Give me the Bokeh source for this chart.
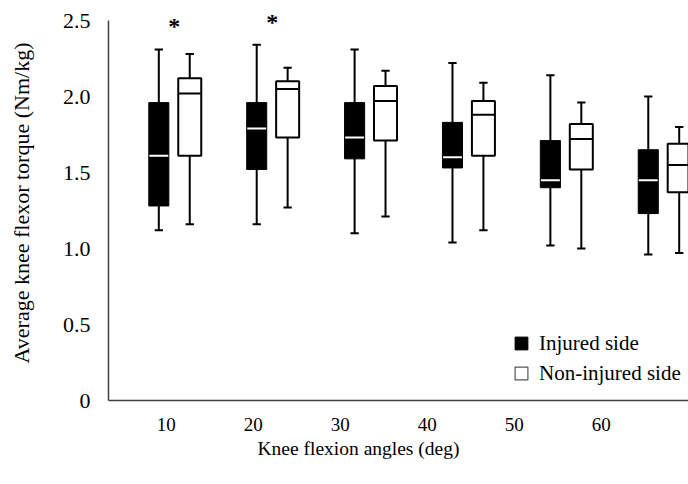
import numpy as np
from bokeh.plotting import figure
from bokeh.models import (Range1d, FixedTicker, CustomJSTickFormatter, Legend, LegendItem,
                          ColumnDataSource, Title)
from bokeh.core.properties import value
from bokeh.embed import file_html
from bokeh.resources import INLINE

# ---------------- data ----------------
angles = ["10", "20", "30", "40", "50", "60"]

inj_max = [2.31, 2.34, 2.31, 2.22, 2.14, 2.00]
inj_q3 = [1.96, 1.96, 1.96, 1.83, 1.71, 1.65]
inj_med = [1.61, 1.79, 1.73, 1.60, 1.45, 1.45]
inj_q1 = [1.28, 1.52, 1.59, 1.53, 1.40, 1.23]
inj_min = [1.12, 1.16, 1.10, 1.04, 1.02, 0.96]

non_max = [2.28, 2.19, 2.17, 2.09, 1.96, 1.80]
non_q3 = [2.12, 2.10, 2.07, 1.97, 1.82, 1.69]
non_med = [2.02, 2.05, 1.97, 1.88, 1.72, 1.55]
non_q1 = [1.61, 1.73, 1.71, 1.61, 1.52, 1.37]
non_min = [1.16, 1.27, 1.21, 1.12, 1.00, 0.97]

significance = ["*", "*", "", "", "", ""]

y_ticks = [0, 0.5, 1.0, 1.5, 2.0, 2.5]

# ---------------- layout / style ----------------
FONT = "Liberation Serif"
OFFSET = 0.158        # half distance between the two boxes of a pair
W_INJ = 0.205
W_NON = 0.235
CAP = 0.085
TICK_START = -0.081   # tick labels sit on their own spacing in the reference
TICK_STEP = 0.8887
STAR_GAP = 0.152

n = len(angles)
pos = np.arange(n, dtype=float)

p = figure(width=688, height=484, output_backend="svg", toolbar_location=None,
           x_range=Range1d(-0.672, 5.253), y_range=Range1d(0, 2.599),
           min_border_left=108, min_border_right=0, min_border_top=5, min_border_bottom=84)
p.outline_line_color = None
p.xgrid.visible = False
p.ygrid.visible = False
p.background_fill_color = "white"
p.border_fill_color = "white"


def draw_group(xs, mx, q3, md, q1, mn, width, fill, line, med_color, lw):
    src = ColumnDataSource(dict(
        x=xs, mx=mx, q3=q3, md=md, q1=q1, mn=mn,
        cl=xs - CAP / 2, cr=xs + CAP / 2,
        ml=xs - width / 2 + 0.006, mr=xs + width / 2 - 0.006,
    ))
    p.segment(x0="x", y0="mn", x1="x", y1="mx", source=src, line_color="black", line_width=2)
    p.segment(x0="cl", y0="mx", x1="cr", y1="mx", source=src, line_color="black", line_width=2)
    p.segment(x0="cl", y0="mn", x1="cr", y1="mn", source=src, line_color="black", line_width=2)
    box = p.vbar(x="x", width=width, top="q3", bottom="q1", source=src,
                 fill_color=fill, line_color=line, line_width=lw)
    p.segment(x0="ml", y0="md", x1="mr", y1="md", source=src, line_color=med_color, line_width=2)
    return box


r_inj = draw_group(pos - OFFSET, inj_max, inj_q3, inj_med, inj_q1, inj_min, W_INJ, "black", "black", "white", 1)
r_non = draw_group(pos + OFFSET, non_max, non_q3, non_med, non_q1, non_min, W_NON, "white", "black", "black", 2)

# significance markers
star_y = [max(a, b) + STAR_GAP for a, b in zip(inj_max, non_max)]
star_src = ColumnDataSource(dict(x=pos, y=star_y, t=significance))
p.text(x="x", y="y", text="t", source=star_src, text_font=value(FONT),
       text_font_size="24px", text_font_style="bold", text_align="center",
       text_baseline="middle", text_color="black")

# legend swatch for the open boxes (thin grey outline, draws nothing in the plot)
swatch_non = p.vbar(x=[np.nan], top=[np.nan], bottom=[np.nan], width=0.1,
                    fill_color="white", line_color="#555555", line_width=1.2)

legend = Legend(items=[LegendItem(label="Injured side", renderers=[r_inj]),
                       LegendItem(label="Non-injured side", renderers=[swatch_non])],
                location=(405, 12), glyph_width=16, glyph_height=16, label_height=30,
                spacing=0, padding=0, margin=0, border_line_color=None,
                background_fill_alpha=0, label_text_font=FONT, label_text_font_size="21px",
                label_standoff=10, label_text_color="black")
p.add_layout(legend)

# axes
p.yaxis.ticker = FixedTicker(ticks=y_ticks)
p.yaxis.formatter = CustomJSTickFormatter(code="return tick == 0 ? '0' : tick.toFixed(1);")
p.yaxis.bounds = (0, 2.5)
p.xaxis.ticker = FixedTicker(ticks=[TICK_START + i * TICK_STEP for i in range(n)])
p.xaxis.formatter = CustomJSTickFormatter(
    args=dict(labels=angles, start=TICK_START, step=TICK_STEP),
    code="const i = Math.round((tick - start) / step); return labels[i];")
for ax in (p.xaxis, p.yaxis):
    ax.axis_line_color = "#404040"
    ax.axis_line_width = 1.5
    ax.major_tick_line_color = None
    ax.minor_tick_line_color = None
    ax.major_tick_out = 0
    ax.major_label_text_font = FONT
    ax.major_label_text_color = "black"
p.yaxis.major_label_text_font_size = "22px"
p.xaxis.major_label_text_font_size = "19px"
p.yaxis.major_label_standoff = 18
p.xaxis.major_label_standoff = 17

p.yaxis.axis_label = "Average knee flexor torque (Nm/kg)"
p.yaxis.axis_label_text_font = FONT
p.yaxis.axis_label_text_font_size = "22px"
p.yaxis.axis_label_text_font_style = "normal"
p.yaxis.axis_label_text_color = "black"
p.yaxis.axis_label_standoff = 26

# x-axis title (placed as in the reference)
p.add_layout(Title(text="Knee flexion angles (deg)", align="left", offset=149, standoff=4,
                   text_font=FONT, text_font_size="19.5px", text_font_style="normal",
                   text_color="black"), "below")

open("out.html", "w").write(file_html(p, INLINE))
